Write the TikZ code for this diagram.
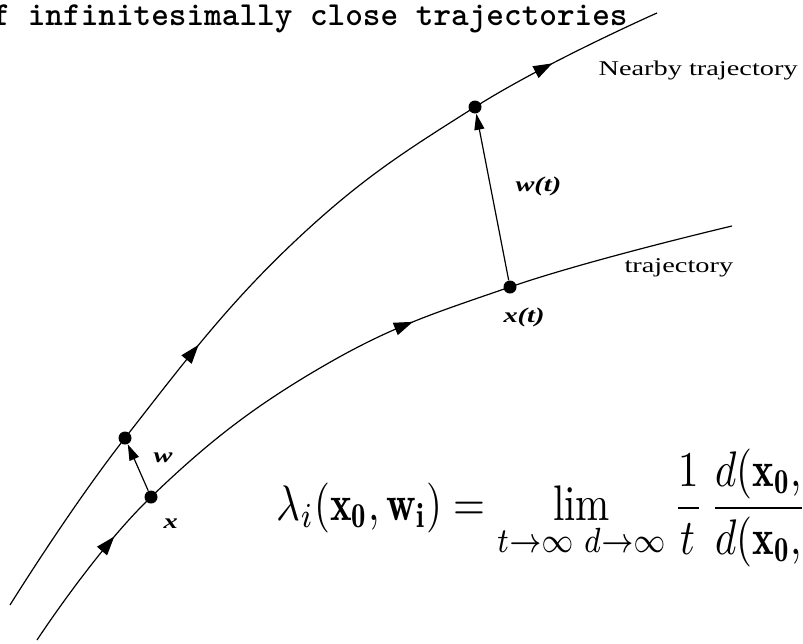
\documentclass[tikz,border=0pt]{standalone}
\usepackage{fontspec}
\usetikzlibrary{arrows.meta,decorations.markings}
\newfontfamily\timesfont{Liberation Serif}
\tikzset{
  traj line/.style ={draw=black,line width=0.6pt},
  traj dot/.style  ={circle,fill=black,inner sep=0pt,minimum size=6.5pt},
  tangent/.style   ={draw=black,line width=0.6pt,
                     -{Triangle[length=8pt,width=5pt]}},
}
\newcommand{\flowTip}{\arrow{Triangle[length=9.5pt,width=6.5pt]}}

\begin{document}
\begin{tikzpicture}[x=0.5pt,y=-0.5pt,
          every node/.style={inner sep=0pt},
          tag/.style={font=\timesfont\fontsize{10.5pt}{12pt}\selectfont,
                      xscale=1.35,anchor=base west},
          vec/.style={tag,font=\timesfont\bfseries\itshape\fontsize{10.5pt}{12pt}\selectfont},
        ]
        \clip (0,0) rectangle (803,643);
        \fill[white] (0,0) rectangle (803,643);
        \node[font=\ttfamily\bfseries\fontsize{16.8pt}{20pt}\selectfont,anchor=base east]
              (title) at (628,25) {of infinitesimally close trajectories};
        \draw[traj line,postaction={decorate},
              decoration={markings,
                          mark=at position 0.36 with {\flowTip},
                          mark=at position 0.87 with {\flowTip}}]
              plot[smooth,tension=0.7] coordinates
              {(10,605) (125,438) (293,243) (475,107) (657,13)};
        \draw[traj line,postaction={decorate},
              decoration={markings,
                          mark=at position 0.155 with {\flowTip},
                          mark=at position 0.60 with {\flowTip}}]
              plot[smooth,tension=0.7] coordinates
              {(37,640) (151,497) (320,368) (510,287) (732,226)};
        \node[traj dot] (w0) at (125,438) {};
        \node[traj dot] (x0) at (151,497) {};
        \node[traj dot] (wt) at (475,107) {};
        \node[traj dot] (xt) at (510,287) {};
        \draw[tangent] (x0) -- (w0);
        \draw[tangent] (xt) -- (wt);
        \node[vec] (lw)  at (153,462) {w};
        \node[vec] (lx)  at (163,528) {x};
        \node[vec] (lwt) at (515,191) {w(t)};
        \node[vec] (lxt) at (503,322) {x(t)};
        \node[tag] (near) at (598,75)  {Nearby trajectory};
        \node[tag] (traj) at (624,272) {trajectory};
        \node[anchor=base west,xscale=2.05,yscale=2.5]
              (lyap) at (276,520)
              {$\displaystyle \lambda_i(\mathbf{x_0},\mathbf{w_i})
                = \lim_{t\to\infty\; d\to\infty}
                \frac{1}{t}\,\frac{d(\mathbf{x_0},}{d(\mathbf{x_0},}$};
      \end{tikzpicture}
\end{document}
